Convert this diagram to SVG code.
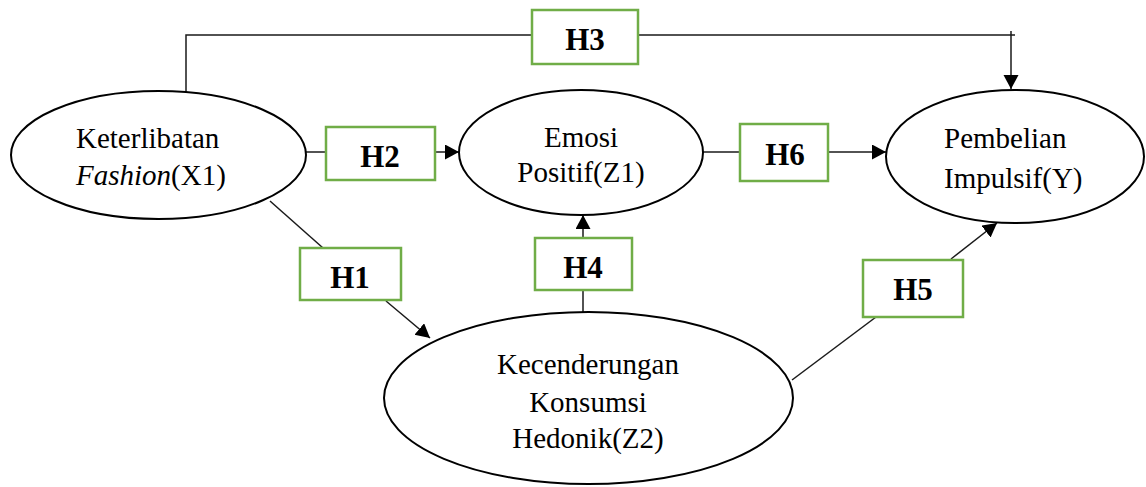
<svg xmlns="http://www.w3.org/2000/svg" width="1146" height="487" viewBox="0 0 1146 487">
<style>
.node{fill:#fff;stroke:#000;stroke-width:2}
.lbl{font-family:"Liberation Serif","Times New Roman",serif;font-size:29px;fill:#000}
.hbox{fill:#fff;stroke:#70AD47;stroke-width:2.5}
.htxt{font-family:"Liberation Serif","Times New Roman",serif;font-size:31px;font-weight:bold;fill:#000;text-anchor:middle}
.edge{fill:none;stroke:#1a1a1a;stroke-width:1.5}
</style>
<defs>
<marker id="arr" markerUnits="userSpaceOnUse" markerWidth="16" markerHeight="16" refX="14" refY="7.5" orient="auto">
<path d="M0,0 L14,7.5 L0,15 z" fill="#000"/>
</marker>
</defs>
<rect width="1146" height="487" fill="#fff"/>
<g id="connectors">
<polyline class="edge" points="186,95 186,35 1015,35"/>
<line class="edge" x1="1011" y1="31" x2="1011" y2="89" marker-end="url(#arr)"/>
<line class="edge" x1="306" y1="152" x2="326" y2="152"/>
<line class="edge" x1="435" y1="152" x2="459" y2="152" marker-end="url(#arr)"/>
<line class="edge" x1="703" y1="152" x2="740" y2="152"/>
<line class="edge" x1="828" y1="152" x2="886" y2="152" marker-end="url(#arr)"/>
<line class="edge" x1="270" y1="201" x2="323" y2="248"/>
<line class="edge" x1="386" y1="301" x2="430" y2="338" marker-end="url(#arr)"/>
<line class="edge" x1="583" y1="312" x2="583" y2="290"/>
<line class="edge" x1="583" y1="238" x2="583" y2="215" marker-end="url(#arr)"/>
<line class="edge" x1="792" y1="380" x2="876" y2="317"/>
<line class="edge" x1="951" y1="259" x2="997" y2="223" marker-end="url(#arr)"/>
</g>
<g id="X1">
<ellipse class="node" cx="158.5" cy="155" rx="147.5" ry="64"/>
<text class="lbl" x="76" y="148">Keterlibatan</text>
<text class="lbl" x="76" y="185"><tspan font-style="italic">Fashion</tspan>(X1)</text>
</g>
<g id="Z1">
<ellipse class="node" cx="581" cy="152.5" rx="122" ry="62.5"/>
<text class="lbl" x="581" y="147" text-anchor="middle">Emosi</text>
<text class="lbl" x="581" y="182" text-anchor="middle">Positif(Z1)</text>
</g>
<g id="Y">
<ellipse class="node" cx="1015" cy="156.5" rx="129" ry="66.5"/>
<text class="lbl" x="944" y="148">Pembelian</text>
<text class="lbl" x="944" y="188">Impulsif(Y)</text>
</g>
<g id="Z2">
<ellipse class="node" cx="588.5" cy="398" rx="204.5" ry="86"/>
<text class="lbl" x="588" y="374" text-anchor="middle">Kecenderungan</text>
<text class="lbl" x="588" y="412" text-anchor="middle">Konsumsi</text>
<text class="lbl" x="588" y="448" text-anchor="middle">Hedonik(Z2)</text>
</g>
<g id="H1">
<rect class="hbox" x="300" y="248" width="101" height="52"/>
<text class="htxt" x="350" y="288">H1</text>
</g>
<g id="H2">
<rect class="hbox" x="326" y="127" width="109" height="53"/>
<text class="htxt" x="380" y="167">H2</text>
</g>
<g id="H3">
<rect class="hbox" x="532" y="10" width="106" height="54"/>
<text class="htxt" x="585" y="50">H3</text>
</g>
<g id="H4">
<rect class="hbox" x="535" y="238" width="97" height="52"/>
<text class="htxt" x="583" y="278">H4</text>
</g>
<g id="H5">
<rect class="hbox" x="863" y="260" width="100" height="57"/>
<text class="htxt" x="913" y="300">H5</text>
</g>
<g id="H6">
<rect class="hbox" x="740" y="124" width="88" height="57"/>
<text class="htxt" x="785" y="165">H6</text>
</g>
</svg>
